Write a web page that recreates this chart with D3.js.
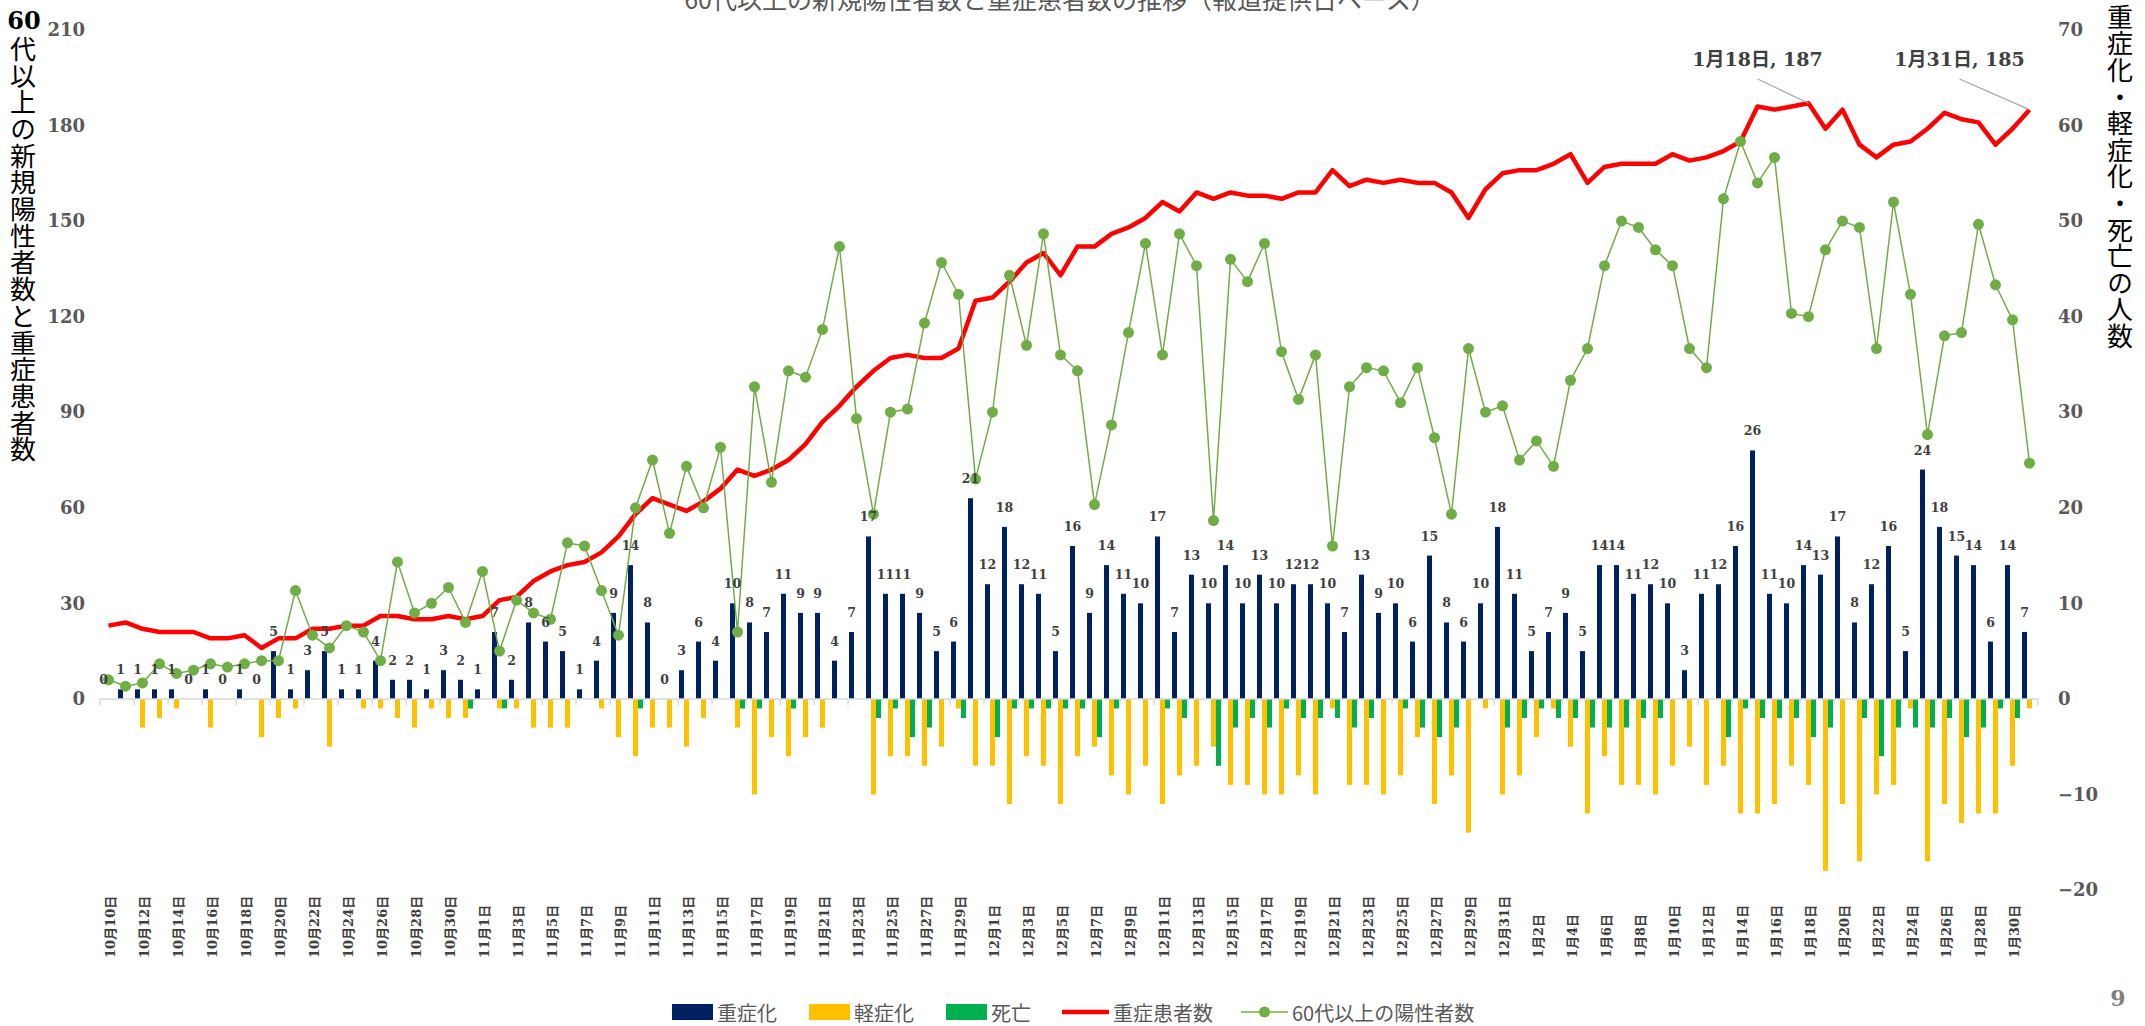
<!DOCTYPE html>
<html>
<head>
<meta charset="utf-8">
<script src="https://cdn.jsdelivr.net/npm/d3@7"></script>
<style>
  body { margin: 0; background: #fff; }
  svg { display: block; }
</style>
</head>
<body>
<svg id="chart" width="2145" height="1026"></svg>
<script>
// categories: 報道提供日
const dates = [
  '10月10日','10月11日','10月12日','10月13日','10月14日','10月15日','10月16日','10月17日','10月18日','10月19日',
  '10月20日','10月21日','10月22日','10月23日','10月24日','10月25日','10月26日','10月27日','10月28日','10月29日',
  '10月30日','10月31日',
  '11月1日','11月2日','11月3日','11月4日','11月5日','11月6日','11月7日','11月8日','11月9日','11月10日',
  '11月11日','11月12日','11月13日','11月14日','11月15日','11月16日','11月17日','11月18日','11月19日','11月20日',
  '11月21日','11月22日','11月23日','11月24日','11月25日','11月26日','11月27日','11月28日','11月29日','11月30日',
  '12月1日','12月2日','12月3日','12月4日','12月5日','12月6日','12月7日','12月8日','12月9日','12月10日',
  '12月11日','12月12日','12月13日','12月14日','12月15日','12月16日','12月17日','12月18日','12月19日','12月20日',
  '12月21日','12月22日','12月23日','12月24日','12月25日','12月26日','12月27日','12月28日','12月29日','12月30日',
  '12月31日',
  '1月1日','1月2日','1月3日','1月4日','1月5日','1月6日','1月7日','1月8日','1月9日','1月10日',
  '1月11日','1月12日','1月13日','1月14日','1月15日','1月16日','1月17日','1月18日','1月19日','1月20日',
  '1月21日','1月22日','1月23日','1月24日','1月25日','1月26日','1月27日','1月28日','1月29日','1月30日',
  '1月31日',
]

// 重症化 (right axis)
const severe = [
  0, 1, 1, 1, 1, 0, 1, 0, 1, 0,
  5, 1, 3, 5, 1, 1, 4, 2, 2, 1,
  3, 2, 1, 7, 2, 8, 6, 5, 1, 4,
  9, 14, 8, 0, 3, 6, 4, 10, 8, 7,
  11, 9, 9, 4, 7, 17, 11, 11, 9, 5,
  6, 21, 12, 18, 12, 11, 5, 16, 9, 14,
  11, 10, 17, 7, 13, 10, 14, 10, 13, 10,
  12, 12, 10, 7, 13, 9, 10, 6, 15, 8,
  6, 10, 18, 11, 5, 7, 9, 5, 14, 14,
  11, 12, 10, 3, 11, 12, 16, 26, 11, 10,
  14, 13, 17, 8, 12, 16, 5, 24, 18, 15,
  14, 6, 14, 7,
]

// 軽症化 (drawn below zero)
const mild = [
  0, 0, 3, 2, 1, 0, 3, 0, 0, 4,
  2, 1, 0, 5, 0, 1, 1, 2, 3, 1,
  2, 2, 0, 1, 1, 3, 3, 3, 0, 1,
  4, 6, 3, 3, 5, 2, 0, 3, 10, 4,
  6, 4, 3, 0, 0, 10, 6, 6, 7, 5,
  1, 7, 7, 11, 6, 7, 11, 6, 5, 8,
  10, 7, 11, 8, 7, 5, 9, 9, 10, 10,
  8, 10, 1, 9, 9, 10, 8, 4, 11, 8,
  14, 1, 10, 8, 4, 1, 5, 12, 6, 9,
  9, 10, 7, 5, 9, 7, 12, 12, 11, 7,
  9, 18, 11, 17, 10, 9, 1, 17, 11, 13,
  12, 12, 7, 1,
]

// 死亡 (drawn below zero)
const deaths = [
  0, 0, 0, 0, 0, 0, 0, 0, 0, 0,
  0, 0, 0, 0, 0, 0, 0, 0, 0, 0,
  0, 1, 0, 1, 0, 0, 0, 0, 0, 0,
  0, 1, 0, 0, 0, 0, 0, 1, 1, 0,
  1, 0, 0, 0, 0, 2, 1, 4, 3, 0,
  2, 0, 4, 1, 1, 1, 1, 1, 4, 1,
  0, 0, 1, 2, 0, 7, 3, 2, 3, 1,
  2, 2, 2, 3, 2, 0, 1, 3, 4, 3,
  0, 0, 3, 2, 1, 2, 2, 3, 3, 3,
  2, 2, 0, 0, 0, 4, 1, 2, 2, 2,
  4, 3, 0, 2, 6, 3, 3, 3, 2, 4,
  3, 1, 2, 0,
]

// 重症患者数 (left axis)
const patients = [
  23, 24, 22, 21, 21, 21, 19, 19, 20, 16,
  19, 19, 22, 22, 23, 23, 26, 26, 25, 25,
  26, 25, 26, 31, 32, 37, 40, 42, 43, 46,
  51, 58, 63, 61, 59, 62, 66, 72, 70, 72,
  75, 80, 87, 92, 98, 103, 107, 108, 107, 107,
  110, 125, 126, 131, 137, 140, 133, 142, 142, 146,
  148, 151, 156, 153, 159, 157, 159, 158, 158, 157,
  159, 159, 166, 161, 163, 162, 163, 162, 162, 159,
  151, 160, 165, 166, 166, 168, 171, 162, 167, 168,
  168, 168, 171, 169, 170, 172, 175, 186, 185, 186,
  187, 179, 185, 174, 170, 174, 175, 179, 184, 182,
  181, 174, 179, 185,
]

// 60代以上の陽性者数 (left axis)
const positives = [
  6, 4, 5, 11, 8, 9, 11, 10, 11, 12,
  12, 34, 20, 16, 23, 21, 12, 43, 27, 30,
  35, 24, 40, 15, 31, 27, 25, 49, 48, 34,
  20, 60, 75, 52, 73, 60, 79, 21, 98, 68,
  103, 101, 116, 142, 88, 58, 90, 91, 118, 137,
  127, 69, 90, 133, 111, 146, 108, 103, 61, 86,
  115, 143, 108, 146, 136, 56, 138, 131, 143, 109,
  94, 108, 48, 98, 104, 103, 93, 104, 82, 58,
  110, 90, 92, 75, 81, 73, 100, 110, 136, 150,
  148, 141, 136, 110, 104, 157, 175, 162, 170, 121,
  120, 141, 150, 148, 110, 156, 127, 83, 114, 115,
  149, 130, 119, 74,
]

const leftTicks = [0, 30, 60, 90, 120, 150, 180, 210]
const rightTicks = [-20, -10, 0, 10, 20, 30, 40, 50, 60, 70]
const seriesNames = ['重症化', '軽症化', '死亡', '重症患者数', '60代以上の陽性者数']
const callouts = [
  { date: '1月18日', value: 187, dx: -51 },
  { date: '1月31日', value: 185, dx: -70 },
]

const title = '60代以上の新規陽性者数と重症患者数の推移（報道提供日ベース）'
const leftTitle = '代以上の新規陽性者数と重症患者数'
const rightTitle = '重症化・軽症化・死亡の人数'

const COLORS = {
  severe: '#002060',
  mild: '#FFC000',
  death: '#00B050',
  patients: '#FF0000',
  positives: '#70AD47',
}
const SERIF = '"DejaVu Serif", "Noto Sans CJK JP", serif'
const SANS = '"Noto Sans CJK JP", "Noto Sans", sans-serif'

const svg = d3.select('#chart')

const x = d3.scaleBand().domain(dates).range([100, 2038])
const sub = d3.scaleBand().domain(['severe', 'mild', 'death']).range([1, 16])
const yL = d3.scaleLinear().domain([-60, 210]).range([890, 30])
const yR = d3.scaleLinear().domain([-20, 70]).range([890, 30])
const cx = (d) => x(d) + x.bandwidth() / 2
const y0 = yR(0)

// title (cut off at the top edge, as in the slide)
svg.append('text')
  .attr('x', 1060).attr('y', 9)
  .attr('text-anchor', 'middle')
  .attr('font-family', SANS).attr('font-size', 25)
  .attr('fill', '#595959')
  .text(title)

// bars
const bars = svg.append('g')
const barSeries = [
  { key: 'severe', values: severe, sign: 1 },
  { key: 'mild', values: mild, sign: -1 },
  { key: 'death', values: deaths, sign: -1 },
]
barSeries.forEach((s) => {
  bars.append('g')
    .selectAll('rect')
    .data(dates.map((d, i) => ({ d, v: s.values[i] * s.sign })))
    .join('rect')
    .attr('x', (p) => x(p.d) + sub(s.key))
    .attr('width', sub.bandwidth())
    .attr('y', (p) => (p.v >= 0 ? yR(p.v) : y0))
    .attr('height', (p) => Math.abs(yR(p.v) - y0))
    .attr('fill', COLORS[s.key])
})

// zero axis line + ticks every 2 days
const axisG = svg.append('g')
axisG.append('line')
  .attr('x1', x.range()[0]).attr('x2', x.range()[1])
  .attr('y1', y0).attr('y2', y0)
  .attr('stroke', '#d9d9d9').attr('stroke-width', 1.5)
const tickXs = dates.filter((d, i) => i % 2 === 0).map((d) => x(d)).concat([x.range()[1]])
axisG.selectAll('line.tick')
  .data(tickXs)
  .join('line')
  .attr('class', 'tick')
  .attr('x1', (d) => d).attr('x2', (d) => d)
  .attr('y1', y0).attr('y2', y0 + 6)
  .attr('stroke', '#d9d9d9').attr('stroke-width', 1.5)

// x labels at the bottom, rotated
svg.append('g')
  .selectAll('text')
  .data(dates.filter((d, i) => i % 2 === 0))
  .join('text')
  .attr('transform', (d) => `translate(${cx(d) + 2},958) rotate(-90)`)
  .attr('dominant-baseline', 'central')
  .attr('font-family', SERIF).attr('font-size', 13).attr('font-weight', 'bold')
  .attr('fill', '#404040')
  .text((d) => d)

// y axes
const styleAxis = (g) => {
  g.select('.domain').remove()
  g.selectAll('text')
    .attr('font-family', SERIF).attr('font-size', 18).attr('font-weight', 'bold')
    .attr('fill', '#595959')
}
svg.append('g')
  .attr('transform', 'translate(100,0)')
  .call(d3.axisLeft(yL).tickValues(leftTicks).tickSize(0).tickPadding(15))
  .call(styleAxis)
svg.append('g')
  .attr('transform', 'translate(2038,0)')
  .call(d3.axisRight(yR).tickValues(rightTicks).tickSize(0).tickPadding(20))
  .call(styleAxis)

// 重症患者数 line
svg.append('path')
  .datum(patients)
  .attr('fill', 'none')
  .attr('stroke', COLORS.patients)
  .attr('stroke-width', 4.5)
  .attr('stroke-linejoin', 'round')
  .attr('d', d3.line().x((v, i) => cx(dates[i])).y((v) => yL(v)))

// 60代以上の陽性者数 line + markers
svg.append('path')
  .datum(positives)
  .attr('fill', 'none')
  .attr('stroke', COLORS.positives)
  .attr('stroke-width', 1.5)
  .attr('d', d3.line().x((v, i) => cx(dates[i])).y((v) => yL(v)))
svg.append('g')
  .selectAll('circle')
  .data(positives)
  .join('circle')
  .attr('cx', (v, i) => cx(dates[i]))
  .attr('cy', (v) => yL(v))
  .attr('r', 5.5)
  .attr('fill', COLORS.positives)

// data labels on 重症化 bars
svg.append('g')
  .selectAll('text')
  .data(severe)
  .join('text')
  .attr('x', (v, i) => x(dates[i]) + sub('severe') + sub.bandwidth() / 2)
  .attr('y', (v) => yR(v) - 15)
  .attr('text-anchor', 'middle')
  .attr('font-family', SERIF).attr('font-size', 12.5).attr('font-weight', 'bold')
  .attr('fill', '#404040')
  .text((v) => v)

// callouts on the red line
callouts.forEach((c) => {
  const px = cx(c.date)
  const py = yL(c.value)
  svg.append('line')
    .attr('x1', px + c.dx).attr('y1', 79)
    .attr('x2', px).attr('y2', py)
    .attr('stroke', '#a6a6a6').attr('stroke-width', 1.2)
  svg.append('text')
    .attr('x', px + c.dx).attr('y', 66)
    .attr('text-anchor', 'middle')
    .attr('font-family', SERIF).attr('font-size', 19).attr('font-weight', 'bold')
    .attr('fill', '#404040')
    .text(`${c.date}, ${c.value}`)
})

// axis titles (vertical)
svg.append('text')
  .attr('x', 24).attr('y', 29)
  .attr('text-anchor', 'middle')
  .attr('font-family', SERIF).attr('font-size', 24).attr('font-weight', 'bold')
  .attr('fill', '#000')
  .text('60')
svg.append('text')
  .attr('x', 23).attr('y', 36)
  .style('writing-mode', 'vertical-rl')
  .style('text-orientation', 'upright')
  .attr('letter-spacing', 0.7)
  .attr('font-family', SANS).attr('font-size', 26)
  .attr('fill', '#000')
  .text(leftTitle)
svg.append('text')
  .attr('x', 2120).attr('y', 4)
  .style('writing-mode', 'vertical-rl')
  .style('text-orientation', 'upright')
  .attr('letter-spacing', 0.6)
  .attr('font-family', SANS).attr('font-size', 26)
  .attr('fill', '#000')
  .text(rightTitle)

// legend
const legendX = [672, 809, 946, 1062, 1241]
const ly = 1012
const legend = svg.append('g')
seriesNames.forEach((name, i) => {
  const lx = legendX[i]
  let keyW = 41
  if (i < 3) {
    const key = ['severe', 'mild', 'death'][i]
    legend.append('rect')
      .attr('x', lx).attr('y', ly - 8).attr('width', 41).attr('height', 16)
      .attr('fill', COLORS[key])
  } else {
    keyW = 47
    const col = i === 3 ? COLORS.patients : COLORS.positives
    legend.append('line')
      .attr('x1', lx).attr('x2', lx + keyW).attr('y1', ly).attr('y2', ly)
      .attr('stroke', col).attr('stroke-width', i === 3 ? 4.5 : 1.5)
    if (i === 4) {
      legend.append('circle')
        .attr('cx', lx + keyW / 2).attr('cy', ly).attr('r', 5.5)
        .attr('fill', col)
    }
  }
  legend.append('text')
    .attr('x', lx + keyW + 4).attr('y', ly)
    .attr('dominant-baseline', 'central')
    .attr('font-family', SANS).attr('font-size', 20)
    .attr('fill', '#595959')
    .text(name)
})

// page number
svg.append('text')
  .attr('x', 2118).attr('y', 1006)
  .attr('text-anchor', 'middle')
  .attr('font-family', SERIF).attr('font-size', 22).attr('font-weight', 'bold')
  .attr('fill', '#808080')
  .text('9')
</script>
</body>
</html>
